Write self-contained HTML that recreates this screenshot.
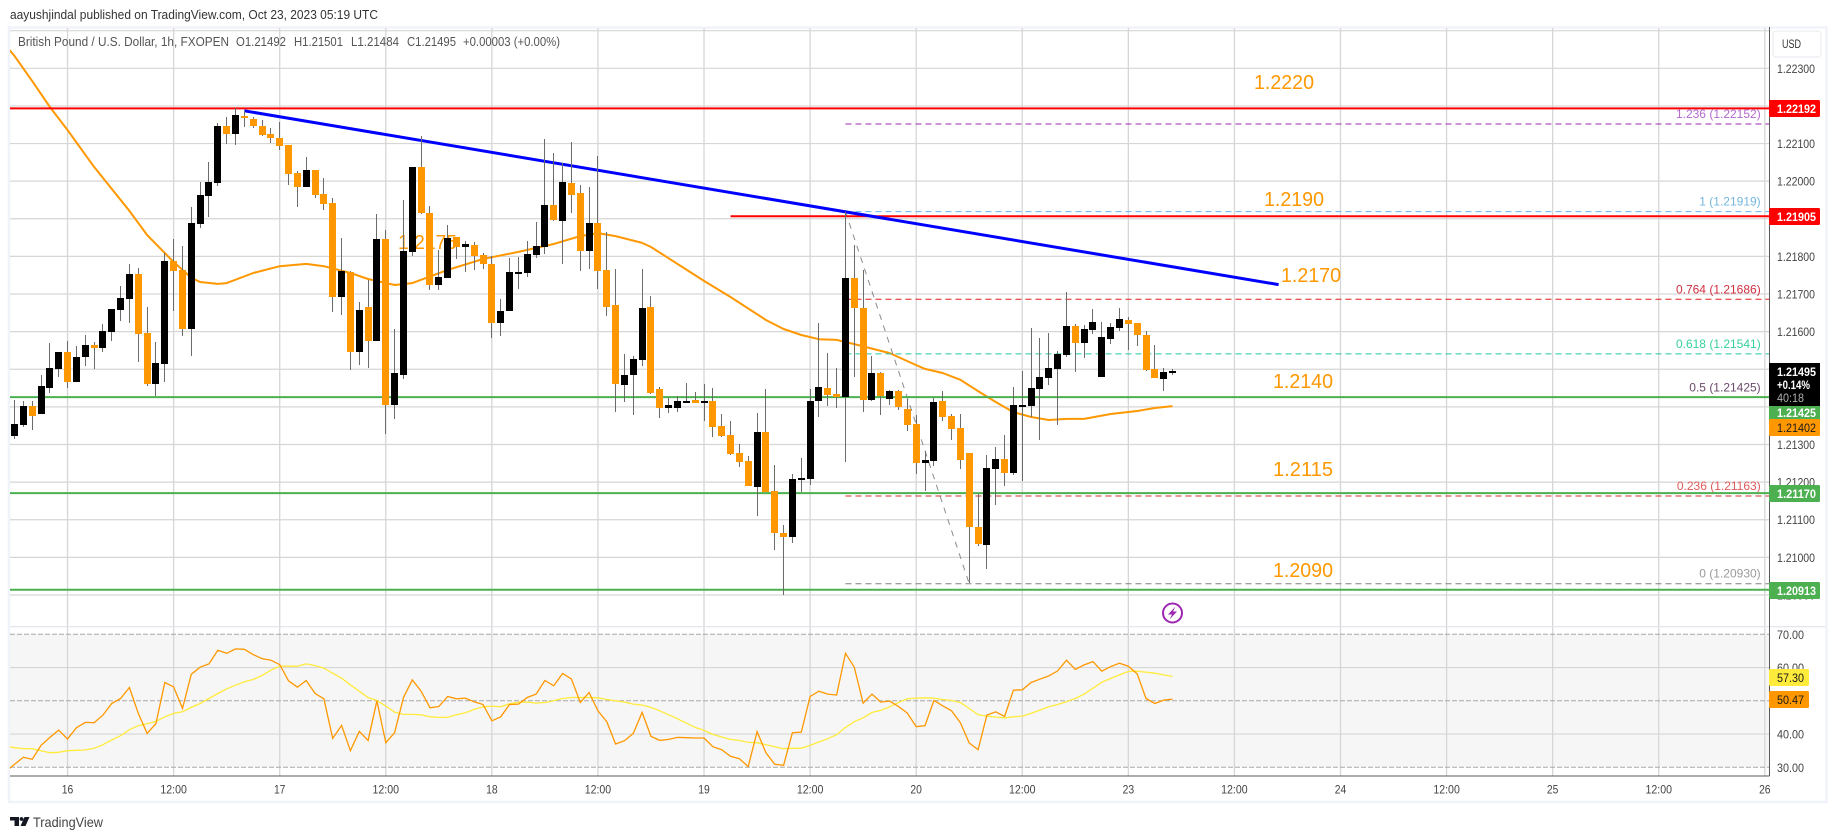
<!DOCTYPE html>
<html lang="en">
<head>
<meta charset="utf-8">
<title>GBP/USD chart</title>
<style>
html,body{margin:0;padding:0;background:#fff;width:1835px;height:839px;overflow:hidden}
svg{display:block;font-family:"Liberation Sans",sans-serif}
</style>
</head>
<body>
<svg id="chart" xmlns="http://www.w3.org/2000/svg" width="1835" height="839" viewBox="0 0 1835 839">
  <defs>
    <clipPath id="price-clip"><rect x="10" y="28" width="1759" height="598"/></clipPath>
    <clipPath id="rsi-clip"><rect x="10" y="628" width="1759" height="148"/></clipPath>
  </defs>
  <text x="10" y="19" font-size="13" fill="#333" textLength="368" lengthAdjust="spacingAndGlyphs">aayushjindal published on TradingView.com, Oct 23, 2023 05:19 UTC</text>
  <rect x="9" y="27.5" width="1817.5" height="774.5" fill="none" stroke="#f0f3fa" stroke-width="2.5"/>
  <rect x="10" y="634.3" width="1759" height="133" fill="#f6f6f6"/>
  <g id="grid-layer"></g>
  <g id="overlay-layer" clip-path="url(#price-clip)"></g>
  <g font-size="20" fill="#ff9800">
    <text x="1254" y="89" textLength="60" lengthAdjust="spacingAndGlyphs">1.2220</text>
    <text x="1264" y="206" textLength="60" lengthAdjust="spacingAndGlyphs">1.2190</text>
    <text x="1281" y="282" textLength="60" lengthAdjust="spacingAndGlyphs">1.2170</text>
    <text x="1273" y="388" textLength="60" lengthAdjust="spacingAndGlyphs">1.2140</text>
    <text x="1273" y="476" textLength="60" lengthAdjust="spacingAndGlyphs">1.2115</text>
    <text x="1273" y="577" textLength="60" lengthAdjust="spacingAndGlyphs">1.2090</text>
    <text x="398" y="249" textLength="59" lengthAdjust="spacingAndGlyphs">1.2175</text>
  </g>
  <g id="candle-layer" clip-path="url(#price-clip)"></g>
  <g id="rsi-layer" clip-path="url(#rsi-clip)"></g>
  <line x1="1769.5" y1="27" x2="1769.5" y2="776" stroke="#5a5a5a" stroke-width="1"/>
  <line x1="10" y1="776" x2="1769.5" y2="776" stroke="#5a5a5a" stroke-width="1"/>
  <g id="tick-layer"></g>
  <g>
    <rect x="1773" y="31" width="48" height="26" rx="3" fill="#fff" stroke="#e8eaf0" stroke-width="1"/>
    <text x="1782" y="48" font-size="11.5" fill="#333" textLength="19" lengthAdjust="spacingAndGlyphs">USD</text>
  </g>
  <g font-size="12" font-weight="bold">
    <g>
      <rect x="1769" y="100" width="51" height="17" rx="1.5" fill="#ff0000"/>
      <text x="1777" y="113" fill="#fff" textLength="39" lengthAdjust="spacingAndGlyphs">1.22192</text>
    </g>
    <g>
      <rect x="1769" y="208" width="51" height="17" rx="1.5" fill="#ff0000"/>
      <text x="1777" y="221" fill="#fff" textLength="39" lengthAdjust="spacingAndGlyphs">1.21905</text>
    </g>
    <g>
      <rect x="1769" y="363" width="51" height="43" fill="#000"/>
      <text x="1777" y="376" fill="#fff" textLength="39" lengthAdjust="spacingAndGlyphs">1.21495</text>
      <text x="1777" y="389" fill="#fff" textLength="33" lengthAdjust="spacingAndGlyphs">+0.14%</text>
      <text x="1777" y="402" fill="#b0b0b0" font-weight="normal" textLength="27" lengthAdjust="spacingAndGlyphs">40:18</text>
    </g>
    <g>
      <rect x="1769" y="406" width="51" height="13.5" fill="#4caf50"/>
      <text x="1777" y="417" fill="#fff" textLength="39" lengthAdjust="spacingAndGlyphs">1.21425</text>
    </g>
    <g>
      <rect x="1769" y="419" width="51" height="17" rx="1.5" fill="#ff9800"/>
      <text x="1777" y="432" fill="#1a1a1a" font-weight="normal" textLength="39" lengthAdjust="spacingAndGlyphs">1.21402</text>
    </g>
    <g>
      <rect x="1769" y="485" width="51" height="17" rx="1.5" fill="#4caf50"/>
      <text x="1777" y="498" fill="#fff" textLength="39" lengthAdjust="spacingAndGlyphs">1.21170</text>
    </g>
    <g>
      <rect x="1769" y="582" width="51" height="17" rx="1.5" fill="#4caf50"/>
      <text x="1777" y="595" fill="#fff" textLength="39" lengthAdjust="spacingAndGlyphs">1.20913</text>
    </g>
    <g>
      <rect x="1769" y="669" width="40" height="17" rx="1.5" fill="#ffeb3b"/>
      <text x="1777" y="682" fill="#1a1a1a" font-weight="normal" textLength="27" lengthAdjust="spacingAndGlyphs">57.30</text>
    </g>
    <g>
      <rect x="1769" y="691" width="40" height="17" rx="1.5" fill="#ff9800"/>
      <text x="1777" y="704" fill="#1a1a1a" font-weight="normal" textLength="27" lengthAdjust="spacingAndGlyphs">50.47</text>
    </g>
  </g>
  <g font-size="12.5" fill="#555">
    <text x="18" y="46" textLength="211" lengthAdjust="spacingAndGlyphs">British Pound / U.S. Dollar, 1h, FXOPEN</text>
    <text x="236" y="46" textLength="50" lengthAdjust="spacingAndGlyphs">O1.21492</text>
    <text x="294" y="46" textLength="49" lengthAdjust="spacingAndGlyphs">H1.21501</text>
    <text x="351" y="46" textLength="48" lengthAdjust="spacingAndGlyphs">L1.21484</text>
    <text x="407" y="46" textLength="49" lengthAdjust="spacingAndGlyphs">C1.21495</text>
    <text x="463" y="46" textLength="97" lengthAdjust="spacingAndGlyphs">+0.00003 (+0.00%)</text>
  </g>
  <g>
    <circle cx="1172.5" cy="613" r="9.5" fill="#fff" stroke="#9c27b0" stroke-width="2"/>
    <polygon points="1175.5,606.5 1168,614.5 1172,614.5 1169.5,619.5 1177,611.5 1173,611.5" fill="#9c27b0"/>
  </g>
  <g>
    <polygon points="10,817 19,817 19,826 14.5,826 14.5,820.5 10,820.5" fill="#131722"/>
    <circle cx="21.5" cy="819" r="1.9" fill="#131722"/>
    <polygon points="24.5,817 29.5,817 25.5,826 20.5,826" fill="#131722"/>
    <text x="33" y="827" font-size="14" fill="#444" textLength="70" lengthAdjust="spacingAndGlyphs">TradingView</text>
  </g>
</svg>
<script>
// ---------- data ----------
const openPrices = [
1.21323,1.21352,1.21402,1.21381,1.21451,1.21501,1.21546,1.21467,1.21532,1.21565,
1.21557,1.21599,1.21658,1.21687,1.21753,1.21596,1.21461,1.21514,1.21787,1.21764,
1.21607,1.21886,1.21961,1.21995,1.22147,1.22125,1.22173,1.22165,1.22147,1.22125,
1.22115,1.22096,1.22022,1.21984,1.22030,1.21966,1.21942,1.21692,1.21759,1.21546,
1.21665,1.21575,1.21846,1.21405,1.21485,1.21812,1.22038,1.21915,1.21724,1.21743,
1.21851,1.21825,1.21830,1.21803,1.21779,1.21623,1.21655,1.21756,1.21756,1.21803,
1.21825,1.21937,1.21894,1.21995,1.21969,1.21814,1.21889,1.21764,1.21671,1.21459,
1.21485,1.21525,1.21665,1.21448,1.21397,1.21397,1.21413,1.21418,1.21410,1.21415,
1.21349,1.21325,1.21277,1.21256,1.21187,1.21333,1.21176,1.21065,1.21054,1.21206,
1.21208,1.21415,1.21451,1.21434,1.21426,1.21743,1.21663,1.21418,1.21490,1.21421,
1.21442,1.21394,1.21354,1.21251,1.21256,1.21415,1.21376,1.21344,1.21277,1.21080,
1.21033,1.21235,1.21261,1.21224,1.21402,1.21402,1.21448,1.21477,1.21501,1.21538,
1.21615,1.21570,1.21604,1.21479,1.21580,1.21610,1.21631,1.21623,1.21591,1.21501,
1.21474,1.21492];
const highPrices = [
1.21418,1.21415,1.21415,1.21485,1.21570,1.21546,1.21575,1.21562,1.21591,1.21573,
1.21620,1.21660,1.21721,1.21779,1.21769,1.21665,1.21573,1.21809,1.21846,1.21827,
1.21931,1.21998,1.22051,1.22155,1.22171,1.22195,1.22187,1.22171,1.22163,1.22141,
1.22157,1.22096,1.22027,1.22064,1.22030,1.22008,1.21956,1.21849,1.21761,1.21679,
1.21737,1.21913,1.21870,1.21607,1.21950,1.22038,1.22120,1.21934,1.21817,1.21883,
1.21851,1.21841,1.21838,1.21809,1.21801,1.21687,1.21795,1.21798,1.21841,1.21891,
1.22112,1.22075,1.22048,1.22104,1.21990,1.21984,1.22067,1.21865,1.21766,1.21541,
1.21536,1.21766,1.21695,1.21453,1.21424,1.21429,1.21464,1.21440,1.21461,1.21451,
1.21381,1.21362,1.21301,1.21269,1.21384,1.21448,1.21245,1.21086,1.21222,1.21264,
1.21448,1.21623,1.21543,1.21504,1.21918,1.21830,1.21764,1.21536,1.21493,1.21445,
1.21445,1.21421,1.21379,1.21282,1.21424,1.21442,1.21381,1.21381,1.21277,1.21169,
1.21272,1.21293,1.21325,1.21453,1.21495,1.21609,1.21583,1.21596,1.21549,1.21706,
1.21620,1.21618,1.21660,1.21626,1.21623,1.21663,1.21639,1.21623,1.21601,1.21565,
1.21504,1.21501];
const lowPrices = [
1.21315,1.21346,1.21339,1.21381,1.21437,1.21479,1.21451,1.21467,1.21509,1.21501,
1.21546,1.21575,1.21628,1.21623,1.21520,1.21456,1.21429,1.21467,1.21655,1.21588,
1.21536,1.21876,1.21905,1.21987,1.22098,1.22096,1.22144,1.22141,1.22120,1.22101,
1.22083,1.21990,1.21931,1.21984,1.21956,1.21923,1.21652,1.21644,1.21498,1.21512,
1.21504,1.21575,1.21328,1.21368,1.21474,1.21801,1.21913,1.21711,1.21711,1.21743,
1.21793,1.21759,1.21764,1.21766,1.21583,1.21588,1.21655,1.21713,1.21745,1.21795,
1.21806,1.21894,1.21779,1.21915,1.21761,1.21766,1.21713,1.21641,1.21387,1.21413,
1.21379,1.21509,1.21434,1.21371,1.21384,1.21387,1.21410,1.21410,1.21362,1.21320,
1.21320,1.21272,1.21240,1.21190,1.21110,1.21174,1.21020,1.20900,1.21038,1.21174,
1.21192,1.21373,1.21402,1.21397,1.21253,1.21479,1.21387,1.21415,1.21379,1.21405,
1.21392,1.21336,1.21222,1.21176,1.21243,1.21362,1.21312,1.21235,1.20932,1.21030,
1.20969,1.21139,1.21190,1.21219,1.21203,1.21373,1.21312,1.21459,1.21352,1.21532,
1.21493,1.21530,1.21593,1.21479,1.21567,1.21601,1.21551,1.21562,1.21495,1.21477,
1.21442,1.21484];
const closePrices = [
1.21354,1.21402,1.21376,1.21456,1.21504,1.21546,1.21467,1.21532,1.21565,1.21557,
1.21601,1.21660,1.21689,1.21753,1.21593,1.21461,1.21517,1.21787,1.21761,1.21607,
1.21889,1.21964,1.21998,1.22147,1.22125,1.22176,1.22168,1.22147,1.22123,1.22115,
1.22093,1.22019,1.21984,1.22030,1.21964,1.21939,1.21692,1.21761,1.21546,1.21658,
1.21575,1.21846,1.21405,1.21490,1.21814,1.22038,1.21915,1.21724,1.21745,1.21849,
1.21825,1.21833,1.21801,1.21779,1.21623,1.21655,1.21759,1.21759,1.21806,1.21827,
1.21937,1.21897,1.21998,1.21964,1.21814,1.21889,1.21761,1.21665,1.21461,1.21485,
1.21528,1.21663,1.21437,1.21397,1.21405,1.21415,1.21415,1.21410,1.21415,1.21346,
1.21323,1.21275,1.21253,1.21190,1.21333,1.21174,1.21065,1.21054,1.21208,1.21211,
1.21415,1.21453,1.21432,1.21426,1.21743,1.21663,1.21418,1.21490,1.21429,1.21442,
1.21400,1.21352,1.21251,1.21259,1.21413,1.21373,1.21341,1.21259,1.21080,1.21035,
1.21237,1.21261,1.21224,1.21405,1.21405,1.21451,1.21479,1.21504,1.21541,1.21615,
1.21570,1.21607,1.21626,1.21586,1.21612,1.21634,1.21620,1.21591,1.21498,1.21477,
1.21493,1.21495];

const maBars = [-1,0,2,4,6,9,13,15,18,20,21,23,24,27,30,33,35,38,40,43,45,49,53,57,61,64,66,68,71,72,78,81,85,87,89,91,93,95,99,102,103,105,107,109,111,113,115,117,119,121,124,127,129,131];
const maValues = [1.22360,1.22333,1.22266,1.22197,1.22136,1.22038,1.21921,1.21857,1.21785,1.21743,1.21732,1.21727,1.21729,1.21756,1.21774,1.21780,1.21774,1.21756,1.21740,1.21724,1.21729,1.21764,1.21793,1.21812,1.21833,1.21854,1.21862,1.21854,1.21836,1.21825,1.21735,1.21692,1.21631,1.21607,1.21591,1.21580,1.21578,1.21567,1.21543,1.21511,1.21501,1.21490,1.21472,1.21442,1.21413,1.21386,1.21373,1.21365,1.21368,1.21368,1.21381,1.21389,1.21397,1.21402];

const rsiValues = [
28.7,30.9,33.0,32.4,36.6,39.0,41.2,38.5,41.9,43.5,43.4,
45.7,49.2,50.7,54.0,46.2,40.2,43.1,55.5,54.2,47.7,
58.0,60.1,61.1,65.2,64.3,65.6,65.5,63.9,62.7,62.2,
60.9,56.0,54.1,56.1,52.2,50.6,38.7,42.6,35.0,40.8,
38.1,50.0,37.4,40.4,51.0,56.3,52.9,47.9,48.3,51.3,
50.6,50.8,49.7,48.9,44.0,45.2,48.9,49.0,51.0,52.0,
56.1,54.5,58.2,56.6,49.5,52.5,47.0,43.7,37.0,38.0,
40.2,46.5,39.3,38.1,38.4,39.0,38.9,38.8,38.8,36.2,
35.3,33.3,32.6,30.2,40.7,34.4,30.9,30.6,40.4,40.6,
51.3,52.9,52.0,51.7,64.3,60.1,49.3,52.0,49.6,49.9,
48.3,46.3,42.2,42.5,50.1,48.5,47.0,43.4,37.3,35.3,
45.7,46.7,45.3,53.2,53.3,55.5,56.5,57.5,59.0,62.2,
59.4,60.8,61.8,58.9,60.3,61.3,60.4,58.1,50.7,49.2,
50.2,50.5];
const rsiMaValues = [
36.4,35.9,35.6,35.6,35.0,34.4,34.5,35.0,35.1,35.2,35.7,
36.8,38.2,39.5,41.3,42.5,43.1,43.8,45.2,46.2,46.7,
48.0,49.2,50.7,52.2,53.6,54.7,55.7,56.4,57.6,59.2,
60.4,60.4,60.4,61.1,60.6,59.8,58.3,56.8,54.8,52.9,
51.0,50.1,48.4,46.6,45.9,45.9,45.8,45.2,45.0,45.0,
45.8,46.4,47.4,48.2,48.4,48.2,49.1,49.6,49.6,49.3,
49.5,50.0,50.7,51.0,51.0,51.0,50.9,50.4,50.0,49.6,
49.0,48.7,48.0,47.0,45.8,44.6,43.3,42.0,41.1,39.9,
39.1,38.4,38.1,37.5,37.4,36.8,36.2,35.6,35.7,35.7,
36.6,37.6,38.6,39.8,42.0,43.7,44.9,46.5,47.1,48.2,
49.5,50.6,50.8,50.9,50.8,50.4,50.1,49.5,47.7,45.8,
45.4,45.1,44.9,45.2,45.4,46.2,47.2,48.2,48.9,49.7,
50.7,52.0,53.8,55.6,56.7,57.8,58.8,58.9,58.6,58.3,
57.8,57.3];

const priceGridTicks = [1.224,1.223,1.222,1.221,1.220,1.219,1.218,1.217,1.216,1.215,1.214,1.213,1.212,1.211,1.210,1.209];
const priceTickLabels = ["","1.22300","1.22200","1.22100","1.22000","1.21900","1.21800","1.21700","1.21600","1.21500","1.21400","1.21300","1.21200","1.21100","1.21000","1.20900"];
const rsiGridTicks = [60,40];
const rsiDashedTicks = [70,50,30];
const rsiTickValues = [70,60,50,40,30];
const rsiTickLabels = ["70.00","60.00","50.00","40.00","30.00"];
const timeTickBars = [6,18,30,42,54,66,78,90,102,114,126,138,150,162,174,186,198];
const timeTickLabels = ["16","12:00","17","12:00","18","12:00","19","12:00","20","12:00","23","12:00","24","12:00","25","12:00","26"];

const resistancePrices = [1.22192,1.21905];
const resistanceStartBars = [-2,81];
const supportPrices = [1.21425,1.21170,1.20913];
const fibRatios = ["1.236","1","0.764","0.618","0.5","0.236","0"];
const fibPrices = [1.22152,1.21919,1.21686,1.21541,1.21425,1.21163,1.20930];
const fibStartBar = 94;
const fibAnchorBars = [94,108];
const fibAnchorPrices = [1.21919,1.20930];
const trendBars = [26,143];
const trendPrices = [1.22187,1.21725];
const firstRsiBar = -1;

// ---------- axis functions ----------
const SVGNS = 'http://www.w3.org/2000/svg';
const PANE_LEFT = 10, PANE_RIGHT = 1769;
function xOfBar(i){ return 14.5 + 8.84 * i; }
function yOfPrice(p){ return 68.3 + (1.223 - p) * 37620; }
function yOfRsi(v){ return 634.3 + (70 - v) * 3.325; }
function mk(tag, parent){
  const el = document.createElementNS(SVGNS, tag);
  parent.appendChild(el);
  return el;
}
function setLine(el, x1, y1, x2, y2, stroke, width){
  el.setAttribute('x1', x1);
  el.setAttribute('y1', y1);
  el.setAttribute('x2', x2);
  el.setAttribute('y2', y2);
  el.setAttribute('stroke', stroke);
  el.setAttribute('stroke-width', width);
}
function setRect(el, x, y, w, h, fill){
  el.setAttribute('x', x);
  el.setAttribute('y', y);
  el.setAttribute('width', w);
  el.setAttribute('height', h);
  el.setAttribute('fill', fill);
}
function setText(el, x, y, str, size, fill, len){
  el.setAttribute('x', x);
  el.setAttribute('y', y);
  el.setAttribute('font-size', size);
  el.setAttribute('fill', fill);
  if (len) {
    el.setAttribute('textLength', len);
    el.setAttribute('lengthAdjust', 'spacingAndGlyphs');
  }
  el.textContent = str;
}

const gridLayer = document.getElementById('grid-layer');
const overlayLayer = document.getElementById('overlay-layer');
const candleLayer = document.getElementById('candle-layer');
const rsiLayer = document.getElementById('rsi-layer');
const tickLayer = document.getElementById('tick-layer');
const GRID = '#d6d6d6';

// ---------- grid ----------
timeTickBars.forEach(function(bar){
  const ln = mk('line', gridLayer);
  
  
  setLine(ln, xOfBar(bar), 28, xOfBar(bar), 776, GRID, 1.3);
});
priceGridTicks.forEach(function(p){
  const ln = mk('line', gridLayer);
  
  
  setLine(ln, PANE_LEFT, yOfPrice(p), PANE_RIGHT, yOfPrice(p), GRID, 1.2);
});
const paneDivider = mk('line', gridLayer);


setLine(paneDivider, PANE_LEFT, 626.7, 1825, 626.7, '#e0e3eb', 1.2);
rsiGridTicks.forEach(function(v){
  const ln = mk('line', gridLayer);
  
  
  setLine(ln, PANE_LEFT, yOfRsi(v), PANE_RIGHT, yOfRsi(v), GRID, 1.2);
});
rsiDashedTicks.forEach(function(v){
  const ln = mk('line', gridLayer);
  
  
  setLine(ln, PANE_LEFT, yOfRsi(v), PANE_RIGHT, yOfRsi(v), '#a8a8a8', 1);
  ln.setAttribute('stroke-dasharray', '5 2');
});

// ---------- moving average ----------
const maLine = mk('polyline', overlayLayer);


maLine.setAttribute('fill', 'none');
maLine.setAttribute('stroke', '#ff9800');
maLine.setAttribute('stroke-width', '2');
maLine.setAttribute('stroke-linejoin', 'round');
maLine.setAttribute('points', maBars.map(function(b, k){
  return xOfBar(b).toFixed(1) + ',' + yOfPrice(maValues[k]).toFixed(1);
}).join(' '));

// ---------- fibonacci ----------
const fibLineColors = ['#9c27b0','#64b5f6','#e01f1f','#26c6a0','#4a1a4a','#d32f2f','#808080'];
const fibTextColors = ['#b56ad0','#75b7df','#cf2f3f','#35d0a0','#6a4a6a','#e05a5a','#9a9a9a'];
fibPrices.forEach(function(p, k){
  const ln = mk('line', overlayLayer);
  
  
  setLine(ln, xOfBar(fibStartBar), yOfPrice(p), PANE_RIGHT, yOfPrice(p), fibLineColors[k], 1);
  ln.setAttribute('stroke-dasharray', '6 4');
  const tx = mk('text', overlayLayer);
  
  
  tx.setAttribute('text-anchor', 'end');
  setText(tx, 1760.7, yOfPrice(p) - 6, fibRatios[k] + ' (' + p.toFixed(5) + ')', 12, fibTextColors[k]);
});
const fibDiagonal = mk('line', overlayLayer);


setLine(fibDiagonal, xOfBar(fibAnchorBars[0]), yOfPrice(fibAnchorPrices[0]), xOfBar(fibAnchorBars[1]), yOfPrice(fibAnchorPrices[1]), '#8a8a8a', 1);
fibDiagonal.setAttribute('stroke-dasharray', '6 6');

// ---------- horizontal levels ----------
resistancePrices.forEach(function(p, k){
  const ln = mk('line', overlayLayer);
  
  
  setLine(ln, xOfBar(resistanceStartBars[k]), yOfPrice(p) - 0.6, PANE_RIGHT, yOfPrice(p) - 0.6, '#ff0000', 2);
});
supportPrices.forEach(function(p){
  const ln = mk('line', overlayLayer);
  
  
  setLine(ln, PANE_LEFT, yOfPrice(p) - 0.3, PANE_RIGHT, yOfPrice(p) - 0.3, '#4caf50', 2);
});

// ---------- trend line ----------
const trendLine = mk('line', overlayLayer);


setLine(trendLine, xOfBar(trendBars[0]), yOfPrice(trendPrices[0]), xOfBar(trendBars[1]), yOfPrice(trendPrices[1]), '#0000ff', 3);

// ---------- candles ----------
openPrices.forEach(function(o, i){
  const c = closePrices[i];
  const cx = xOfBar(i);
  const g = mk('g', candleLayer);
  
  
  const yHigh = Math.round(yOfPrice(highPrices[i]));
  const yLow = Math.round(yOfPrice(lowPrices[i]));
  const wick = mk('rect', g);
  
  
  setRect(wick, Math.round(cx - 0.5), yHigh, 1, Math.max(yLow - yHigh, 1), '#6b6b6b');
  const top = Math.round(yOfPrice(Math.max(o, c)));
  const bot = Math.round(yOfPrice(Math.min(o, c)));
  const body = mk('rect', g);
  
  
  setRect(body, Math.round(cx - 3.5), top, 7, Math.max(bot - top, 2), c >= o ? '#000000' : '#ff9800');
});

// ---------- RSI ----------
function rsiPoints(values){
  return values.map(function(v, k){
    return xOfBar(firstRsiBar + k).toFixed(1) + ',' + yOfRsi(v).toFixed(1);
  }).join(' ');
}
const rsiMaLine = mk('polyline', rsiLayer);


rsiMaLine.setAttribute('fill', 'none');
rsiMaLine.setAttribute('stroke', '#ffeb3b');
rsiMaLine.setAttribute('stroke-width', '1.3');
rsiMaLine.setAttribute('points', rsiPoints(rsiMaValues));
const rsiLine = mk('polyline', rsiLayer);


rsiLine.setAttribute('fill', 'none');
rsiLine.setAttribute('stroke', '#ff9800');
rsiLine.setAttribute('stroke-width', '1.3');
rsiLine.setAttribute('points', rsiPoints(rsiValues));

// ---------- axis tick labels ----------
priceTickLabels.forEach(function(label, k){
  if (!label) return;
  const tx = mk('text', tickLayer);
  
  
  setText(tx, 1777, yOfPrice(priceGridTicks[k]) + 4.5, label, 12, '#444', 38);
});
rsiTickLabels.forEach(function(label, k){
  const tx = mk('text', tickLayer);
  
  
  setText(tx, 1777, yOfRsi(rsiTickValues[k]) + 4.5, label, 12, '#444', 27);
});
timeTickLabels.forEach(function(label, k){
  const tx = mk('text', tickLayer);
  
  
  tx.setAttribute('text-anchor', 'middle');
  setText(tx, xOfBar(timeTickBars[k]), 793.5, label, 12, '#444', label.length > 2 ? 26.5 : 11.5);
});
</script>
</body>
</html>
